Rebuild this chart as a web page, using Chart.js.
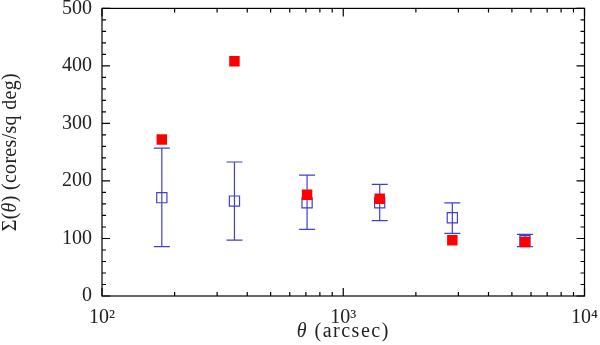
<!DOCTYPE html>
<html lang="en">
<head>
  <meta charset="UTF-8">
  <title>Sigma(theta)</title>
  <script src="https://cdn.jsdelivr.net/npm/chart.js"></script>
  <style>
    body { margin: 0; background: #fff; }
    #wrap { width: 600px; height: 345px; }
  </style>
</head>
<body>
<div id="wrap"><canvas id="sigmaChart"></canvas></div>
<script>
  // angular scale (arcsec) and surface density (cores/sq deg)
  const theta = [177, 354, 708, 1416, 2832, 5664];
  const observed = [272, 408, 176, 169, 97, 94];
  const randomMean = [171, 165, 162, 162, 136, 96];
  const randomLow = [86, 97, 116, 131, 109, 86];
  const randomHigh = [257, 233, 210, 194, 162, 107];
  const xTicks = [100, 1000, 10000];
  const xTickLabels = ["10\u00b2", "10\u00b3", "10\u2074"];
  const yTicks = [0, 100, 200, 300, 400, 500];

  const FONT = "'Liberation Serif', serif";
  const BLUE = "#4040d0";
  const RED = "#ff0000";
  const INK = "#222";

  // error bars for the random-catalogue points
  const errorBars = {
    id: "errorBars",
    beforeDatasetsDraw(chart) {
      const { ctx, scales: { x, y } } = chart;
      ctx.save();
      ctx.strokeStyle = BLUE;
      ctx.lineWidth = 1.2;
      theta.forEach((t, i) => {
        const px = x.getPixelForValue(t);
        const lo = y.getPixelForValue(randomLow[i]);
        const hi = y.getPixelForValue(randomHigh[i]);
        ctx.beginPath();
        ctx.moveTo(px, lo); ctx.lineTo(px, hi);
        ctx.moveTo(px - 8, lo); ctx.lineTo(px + 8, lo);
        ctx.moveTo(px - 8, hi); ctx.lineTo(px + 8, hi);
        ctx.stroke();
      });
      ctx.restore();
    }
  };

  // draw text pieces in a row, some in italic
  function drawPieces(ctx, pieces, cx, cy, spacing) {
    ctx.letterSpacing = spacing + "px";
    const fontOf = p => (p.italic ? "italic " : "") + "20px " + FONT;
    let total = 0;
    pieces.forEach(p => { ctx.font = fontOf(p); total += ctx.measureText(p.text).width; });
    let px = cx - total / 2;
    ctx.textAlign = "left";
    ctx.textBaseline = "middle";
    pieces.forEach(p => {
      ctx.font = fontOf(p);
      ctx.fillText(p.text, px, cy);
      px += ctx.measureText(p.text).width;
    });
  }

  // box frame with inward major/minor ticks on all four sides, plus axis titles
  const frame = {
    id: "frame",
    afterDraw(chart) {
      const { ctx, chartArea: a, scales: { x, y } } = chart;
      ctx.save();
      ctx.strokeStyle = "#000";
      ctx.lineWidth = 1.2;
      ctx.strokeRect(a.left, a.top, a.right - a.left, a.bottom - a.top);
      ctx.beginPath();
      for (let v = 0; v <= 500; v += 20) {
        const py = y.getPixelForValue(v);
        const len = v % 100 === 0 ? 8 : 4;
        ctx.moveTo(a.left, py); ctx.lineTo(a.left + len, py);
        ctx.moveTo(a.right, py); ctx.lineTo(a.right - len, py);
      }
      for (let d = 100; d < 10000; d *= 10) {
        for (let m = 1; m <= 10; m++) {
          const px = x.getPixelForValue(d * m);
          const len = m === 1 || m === 10 ? 8 : 4;
          ctx.moveTo(px, a.bottom); ctx.lineTo(px, a.bottom - len);
          ctx.moveTo(px, a.top); ctx.lineTo(px, a.top + len);
        }
      }
      ctx.stroke();

      ctx.fillStyle = INK;
      drawPieces(ctx, [
        { text: "\u03b8", italic: true },
        { text: " (arcsec)" }
      ], (a.left + a.right) / 2, 332, 1.5);

      ctx.save();
      ctx.translate(11, (a.top + a.bottom) / 2);
      ctx.rotate(-Math.PI / 2);
      drawPieces(ctx, [
        { text: "\u03a3(" },
        { text: "\u03b8", italic: true },
        { text: ") (cores/sq deg)" }
      ], 0, 0, 0.3);
      ctx.restore();
      ctx.restore();
    }
  };

  new Chart(document.getElementById("sigmaChart"), {
    type: "scatter",
    data: {
      datasets: [
        {
          label: "observed",
          data: theta.map((t, i) => ({ x: t, y: observed[i] })),
          pointStyle: "rect",
          pointRadius: 7.4,
          backgroundColor: RED,
          borderColor: RED,
          borderWidth: 0
        },
        {
          label: "random",
          data: theta.map((t, i) => ({ x: t, y: randomMean[i] })),
          pointStyle: "rect",
          pointRadius: 7.2,
          backgroundColor: "rgba(0,0,0,0)",
          borderColor: BLUE,
          borderWidth: 1.2
        }
      ]
    },
    options: {
      responsive: true,
      maintainAspectRatio: false,
      animation: false,
      events: [],
      layout: { padding: { top: 5, right: 15, left: 0, bottom: 0 } },
      plugins: { legend: { display: false }, tooltip: { enabled: false } },
      scales: {
        x: {
          type: "logarithmic",
          min: 100,
          max: 10000,
          border: { display: false },
          grid: { display: false },
          afterBuildTicks(scale) { scale.ticks = xTicks.map(v => ({ value: v })); },
          afterFit(scale) { scale.height = 49; },
          ticks: {
            autoSkip: false,
            maxRotation: 0,
            padding: 2,
            color: INK,
            font: { family: FONT, size: 20 },
            callback: (v, i) => xTickLabels[i]
          }
        },
        y: {
          min: 0,
          max: 500,
          border: { display: false },
          grid: { display: false },
          afterBuildTicks(scale) { scale.ticks = yTicks.map(v => ({ value: v })); },
          afterFit(scale) {
            scale.width = 102;
            scale.paddingTop = 0;
            scale.paddingBottom = 0;
          },
          ticks: {
            padding: 2,
            color: INK,
            font: { family: FONT, size: 20 }
          }
        }
      }
    },
    plugins: [errorBars, frame]
  });
</script>
</body>
</html>
